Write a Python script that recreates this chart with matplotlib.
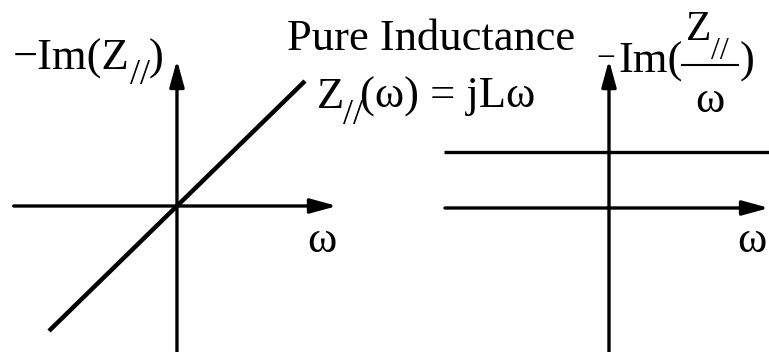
import matplotlib
matplotlib.use('Agg')
import matplotlib.pyplot as plt
from matplotlib.lines import Line2D
from matplotlib.transforms import IdentityTransform
import numpy as np

plt.rcParams['font.family'] = ['Liberation Serif', 'DejaVu Serif']

W, H = 769, 352

# pure inductance: Z(w) = jLw, so -Im(Z) is a line through 0 and -Im(Z/w) = L
L = 1.07
omega = np.array([-0.8, 0.8])
im_z = L * omega
omega_flat = np.array([-1.03, 1.0])
im_z_over_w = L * np.ones_like(omega_flat)

title = 'Pure Inductance'
x_label = '\u03c9'

fig = plt.figure(figsize=(W / 100, H / 100), dpi=100)
fig.patch.set_facecolor('white')

ax_l = fig.add_axes([0, 0, 1, 1])
ax_r = fig.add_axes([0, 0, 1, 1])
ax_r.patch.set_alpha(0)

ax_l.set_xlim(-1.106, 3.70)
ax_l.set_ylim(-1.0, 1.411)
ax_r.set_xlim(-3.806, 1.0)
ax_r.set_ylim(-2.775, 4.008)

head = dict(arrowstyle='-|>,head_length=0.8,head_width=0.22', lw=2.4,
            color='black', shrinkA=0, shrinkB=0, mutation_scale=20)


def draw_axes(ax, x0, x1, y0, y1):
    ax.annotate('', xy=(x1, 0), xytext=(x0, 0), arrowprops=head)
    ax.annotate('', xy=(0, y1), xytext=(0, y0), arrowprops=head)
    ax.axis('off')


draw_axes(ax_l, -1.02, 1.0, -1.0, 1.0)
draw_axes(ax_r, -1.025, 1.0, -2.775, 2.85)

ax_l.plot(omega, im_z, color='black', lw=3.2, solid_capstyle='butt')
ax_r.plot(omega_flat, im_z_over_w, color='black', lw=2.4, solid_capstyle='butt')

renderer = fig.canvas.get_renderer()


def px_text(x, y, s, size=32, **kw):
    # x, y in pixels from the top-left corner, y is the baseline
    return fig.text(x, H - y, s, fontsize=size, va='baseline',
                    transform=IdentityTransform(), **kw)


def chain(x, y, pieces):
    # pieces: (text, size, drop below baseline in px, kern before in px)
    for s, size, dy, kern in pieces:
        t = px_text(x + kern, y + dy, s, size)
        x = t.get_window_extent(renderer).x1


px_text(287, 50, title)

chain(317, 108, [('Z', 32, 0, 0), ('//', 26, 16, -1),
                 ('(\u03c9) = jL\u03c9', 32, 0, -3)])

chain(13, 70, [('\u2212Im(Z', 32, 0, 0), ('//', 26, 14, 0), (')', 32, 0, -1)])

# -Im(Z/w) with a stacked fraction
px_text(596, 67, '\u2212', size=24)
chain(618, 73, [('Im(', 32, 0, 0)])
chain(686, 40, [('Z', 30, 0, 0), ('//', 23, 19, 0)])
fig.add_artist(Line2D([682, 738], [H - 65, H - 65], color='black', lw=1.5,
                      transform=IdentityTransform()))
px_text(710, 112, x_label, ha='center')
px_text(740, 73, ')')

px_text(322, 252, x_label, ha='center')
px_text(752, 252, x_label, ha='center')

fig.savefig('out.png', dpi=100, facecolor='white')
